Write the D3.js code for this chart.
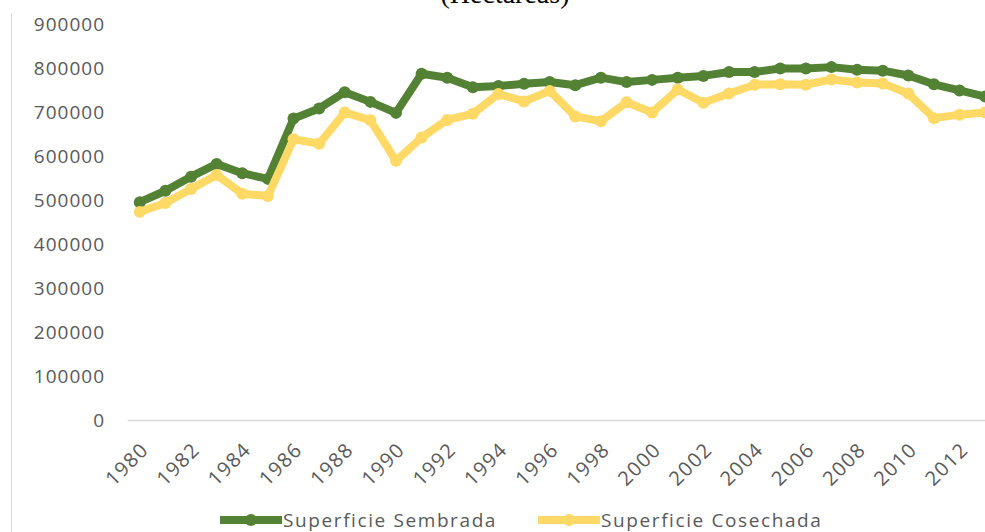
<!DOCTYPE html>
<html>
<head>
<meta charset="utf-8">
<script src="https://cdn.jsdelivr.net/npm/d3@7"></script>
<style>
  html, body { margin: 0; padding: 0; background: #fff; overflow: hidden; }
  svg { display: block; }
  text { font-family: "Open Sans", sans-serif; fill: #595959; }
</style>
</head>
<body>
<svg id="chart" width="985" height="532"></svg>
<script>
const years = d3.range(1980, 2014);
const sembrada = [495000, 521000, 553000, 582000, 561000, 548000, 685000, 708000, 745000, 723000,
  698000, 787000, 778000, 756000, 759000, 764000, 768000, 761000, 778000, 768000,
  773000, 778000, 782000, 791000, 791000, 799000, 799000, 802000, 796000, 794000,
  783000, 763000, 749000, 735000];
const cosechada = [473000, 493000, 525000, 557000, 514000, 509000, 638000, 628000, 699000, 681000,
  589000, 642000, 682000, 696000, 741000, 724000, 748000, 690000, 679000, 722000,
  699000, 751000, 721000, 742000, 762000, 763000, 762000, 774000, 767000, 765000,
  742000, 686000, 694000, 699000];
const yTicks = [0, 100000, 200000, 300000, 400000, 500000, 600000, 700000, 800000, 900000];
const xTickLabels = years.filter(y => (y - 1980) % 2 === 0);
const seriesNames = ["Superficie Sembrada", "Superficie Cosechada"];
const seriesColors = ["#548235", "#FFD966"];
const title = "(Hectáreas)";

const svg = d3.select("#chart");

// chart area border (left edge visible)
svg.append("line").attr("x1", 11.5).attr("x2", 11.5).attr("y1", 13).attr("y2", 532)
  .attr("stroke", "#d9d9d9").attr("stroke-width", 1);

// title (partially cut off, as in the source)
svg.append("text").attr("x", 505).attr("y", 3).attr("text-anchor", "middle")
  .style("font-family", "'Liberation Serif', 'Times New Roman', serif")
  .style("font-size", "28px").style("fill", "#000").text(title);

const x = d3.scaleBand().domain(years).range([127, 998]).paddingInner(0).paddingOuter(0);
const cx = d => x(d) + x.bandwidth() / 2;
const y = d3.scaleLinear().domain([0, 900000]).range([420, 24]);

// y axis labels
const yAxis = d3.axisLeft(y).tickValues(yTicks).tickFormat(d3.format("d")).tickSize(0).tickPadding(0);
const yg = svg.append("g").attr("transform", "translate(105,0)").call(yAxis);
yg.select(".domain").remove();
yg.selectAll("text").style("font-size", "19px").style("letter-spacing", "1px")
  .style("font-family", "'Open Sans', sans-serif").attr("fill", "#595959").attr("dy", "0.35em");

// x axis
const xAxis = d3.axisBottom(x).tickValues(xTickLabels).tickSize(0).tickFormat(d3.format("d"));
const xg = svg.append("g").attr("transform", "translate(0,420)").call(xAxis);
xg.select(".domain").attr("stroke", "#d9d9d9").attr("stroke-width", 1.3);
xg.selectAll("text")
  .style("font-size", "20px").style("letter-spacing", "1.3px")
  .style("font-family", "'Open Sans', sans-serif").attr("fill", "#595959")
  .attr("text-anchor", "end").attr("dy", 0).attr("y", 0)
  .attr("transform", "translate(10,31) rotate(-45)");

// lines
const line = d3.line().x((d, i) => cx(years[i])).y(d => y(d));
const allSeries = [sembrada, cosechada];
allSeries.forEach((s, k) => {
  const g = svg.append("g");
  g.append("path").datum(s).attr("d", line).attr("fill", "none")
    .attr("stroke", seriesColors[k]).attr("stroke-width", 8).attr("stroke-linejoin", "round");
  g.selectAll("circle").data(s).join("circle")
    .attr("cx", (d, i) => cx(years[i])).attr("cy", d => y(d)).attr("r", 6)
    .attr("fill", seriesColors[k]);
});

// legend
const legendX = [220, 538];
seriesNames.forEach((name, k) => {
  const g = svg.append("g").attr("transform", `translate(${legendX[k]},520)`);
  g.append("line").attr("x1", 0).attr("x2", 62).attr("y1", 0).attr("y2", 0)
    .attr("stroke", seriesColors[k]).attr("stroke-width", 8);
  g.append("circle").attr("cx", 31).attr("cy", 0).attr("r", 6).attr("fill", seriesColors[k]);
  g.append("text").attr("x", 63).attr("y", 0).attr("dy", "0.35em")
    .style("font-size", "19px").style("letter-spacing", "1.6px").text(name);
});
</script>
</body>
</html>
